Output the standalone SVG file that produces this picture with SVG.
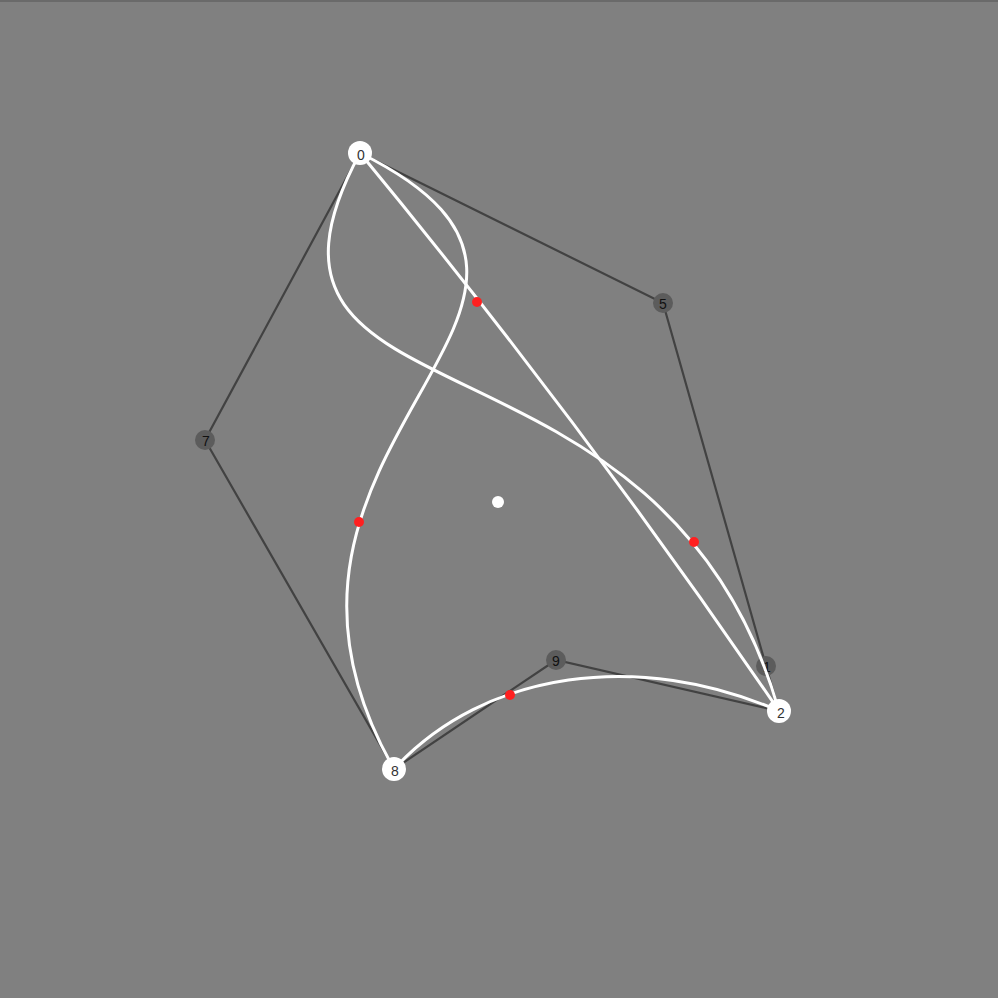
<svg xmlns="http://www.w3.org/2000/svg" width="998" height="998" viewBox="0 0 998 998">
<style>
.edge{stroke:#2e2e2e;stroke-width:2.2;fill:none;stroke-opacity:0.75}
.curve{stroke:#ffffff;stroke-width:3;fill:none}
.dnode{fill:#5c5c5c}
.wnode{fill:#ffffff}
.lbl{font-family:"Liberation Sans",Arial,sans-serif;font-size:14px;text-anchor:middle;dominant-baseline:central}
.dl{fill:#111111}
.wl{fill:#333333}
.red{fill:#ff2020}
</style>
<rect x="0" y="0" width="998" height="998" fill="#808080"/>
<rect x="0" y="0" width="998" height="2" fill="#6a6a6a"/>
<g id="connectors">
<polyline class="edge" points="360,153 663,303 766,666 779,711 556,660 394,769 205,440 360,153"/>
</g>
<g id="node-5"><circle class="dnode" cx="663" cy="303" r="10"/><text class="lbl dl" x="663" y="304">5</text></g>
<g id="node-7"><circle class="dnode" cx="205" cy="440" r="10"/><text class="lbl dl" x="206" y="441">7</text></g>
<g id="node-9"><circle class="dnode" cx="556" cy="660" r="10"/><text class="lbl dl" x="556" y="661">9</text></g>
<g id="node-1"><circle class="dnode" cx="766" cy="666" r="10"/><text class="lbl dl" x="767" y="667">1</text></g>
<g id="curves">
<path class="curve" d="M360,153 C663,303 205,440 394,769"/>
<path class="curve" d="M360,153 C205,440 663,303 779,711"/>
<path class="curve" d="M360,153 Q582,422 779,711"/>
<path class="curve" d="M394,769 C485,670 640,650 779,711"/>
</g>
<g id="midpoints">
<circle class="red" cx="477" cy="302" r="5"/>
<circle class="red" cx="359" cy="522" r="5"/>
<circle class="red" cx="694" cy="542" r="5"/>
<circle class="red" cx="510" cy="695" r="5"/>
</g>
<g id="node-center"><circle class="wnode" cx="498" cy="502" r="6"/></g>
<g id="node-0"><circle class="wnode" cx="360" cy="153" r="12"/><text class="lbl wl" x="361" y="155">0</text></g>
<g id="node-2"><circle class="wnode" cx="779" cy="711" r="12"/><text class="lbl wl" x="781" y="713">2</text></g>
<g id="node-8"><circle class="wnode" cx="394" cy="769" r="12"/><text class="lbl wl" x="395" y="771">8</text></g>
</svg>
